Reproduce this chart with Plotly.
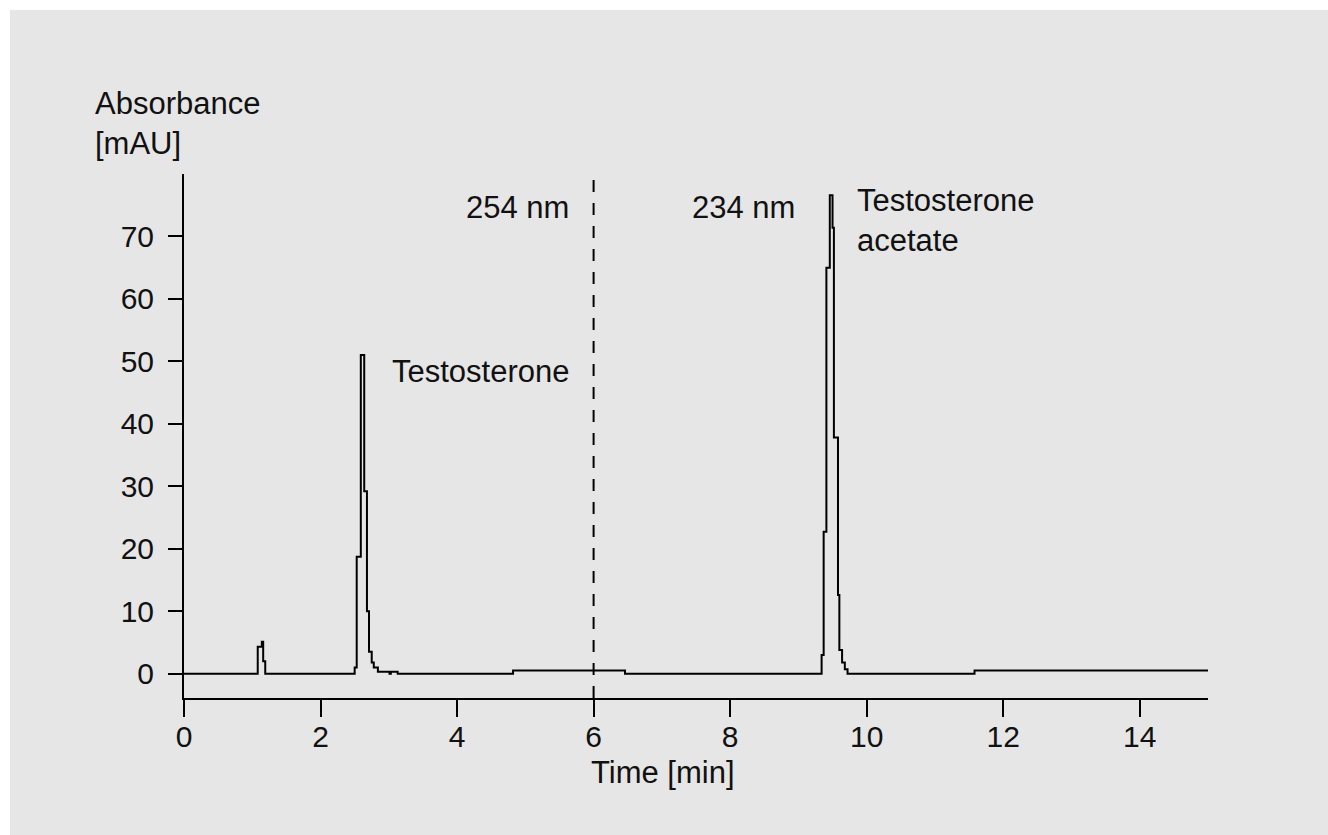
import plotly.graph_objects as go

# Chromatogram trace (stepped detector output)
time_min = [0.00, 1.08, 1.14, 1.16, 1.19, 2.50, 2.53, 2.59, 2.64, 2.68, 2.71, 2.75,
            2.78, 2.84, 3.01, 3.03, 3.13, 4.82, 6.46, 9.34, 9.37, 9.41, 9.46, 9.50,
            9.52, 9.58, 9.60, 9.64, 9.68, 9.72, 11.58, 15.00]
absorbance = [0.0, 4.3, 5.1, 2.0, 0.0, 1.0, 18.7, 51.0, 29.2, 10.0, 3.5, 1.8,
              1.0, 0.3, 0.0, 0.3, 0.0, 0.5, 0.0, 3.0, 22.7, 65.0, 76.6, 71.4,
              37.8, 12.6, 3.8, 1.8, 0.7, 0.0, 0.5, 0.5]

x_ticks = [0, 2, 4, 6, 8, 10, 12, 14]
y_ticks = [0, 10, 20, 30, 40, 50, 60, 70]
switch_time = 6
wavelength_labels = ["254 nm", "234 nm"]
peak_labels = ["Testosterone", "Testosterone<br>acetate"]

FONT = "Liberation Sans, Arial, sans-serif"
BG = "#e6e6e6"
TXT = "#111111"

fig = go.Figure()
fig.add_trace(go.Scatter(
    x=time_min, y=absorbance, mode="lines", line_shape="hv",
    line=dict(color="black", width=2), hoverinfo="skip", showlegend=False,
))

# wavelength switch marker
fig.add_shape(type="line", xref="x", yref="y", x0=switch_time, x1=switch_time,
              y0=-3.9, y1=79.1, line=dict(color="black", width=2, dash="12px,11px"))

# white frame strips (top and left, 10 px)
fig.add_shape(type="rect", xref="paper", yref="paper", x0=-0.25, x1=1.25,
              y0=1.3128, y1=1.40, line=dict(width=0), fillcolor="white", layer="above")
fig.add_shape(type="rect", xref="paper", yref="paper", x0=-0.25, x1=-0.1699,
              y0=-0.40, y1=1.40, line=dict(width=0), fillcolor="white", layer="above")

ann_font = dict(family=FONT, size=31, color=TXT)
fig.add_annotation(x=5.67, y=74.6, xref="x", yref="y", text=wavelength_labels[0],
                   showarrow=False, xanchor="right", yanchor="middle", font=ann_font)
fig.add_annotation(x=8.98, y=74.6, xref="x", yref="y", text=wavelength_labels[1],
                   showarrow=False, xanchor="right", yanchor="middle", font=ann_font)
fig.add_annotation(x=3.02, y=48.3, xref="x", yref="y", text=peak_labels[0],
                   showarrow=False, xanchor="left", yanchor="middle", font=ann_font)
fig.add_annotation(x=9.83, y=72.6, xref="x", yref="y", text=peak_labels[1],
                   showarrow=False, xanchor="left", yanchor="middle", align="left",
                   font=ann_font)
fig.add_annotation(x=-0.0889, y=1.097, xref="paper", yref="paper",
                   text="Absorbance<br>[mAU]", showarrow=False, xanchor="left",
                   yanchor="middle", align="left", font=ann_font)
fig.add_annotation(x=0.468, y=-0.1425, xref="paper", yref="paper",
                   text="Time [min]", showarrow=False, xanchor="center",
                   yanchor="middle", font=ann_font)

fig.update_layout(
    width=1328, height=835,
    margin=dict(l=184, r=120, t=174, b=137, pad=0),
    paper_bgcolor=BG, plot_bgcolor=BG,
    font=dict(family=FONT, size=31, color=TXT),
    xaxis=dict(range=[0, 15], tickvals=x_ticks, ticks="outside", ticklen=17,
               tickwidth=2, tickcolor="black", showline=True, linecolor="black",
               linewidth=2, showgrid=False, zeroline=False, ticklabelstandoff=-6,
               tickfont=dict(family=FONT, size=30, color=TXT)),
    yaxis=dict(range=[-3.9, 80], tickvals=y_ticks, ticks="outside", ticklen=14,
               tickwidth=2, tickcolor="black", showline=True, linecolor="black",
               linewidth=2, showgrid=False, zeroline=False, ticklabelstandoff=8,
               tickfont=dict(family=FONT, size=30, color=TXT)),
)

fig.write_html("out.html",
               config={"displayModeBar": False},
               post_script="document.body.style.margin='0';document.body.style.overflow='hidden';")
